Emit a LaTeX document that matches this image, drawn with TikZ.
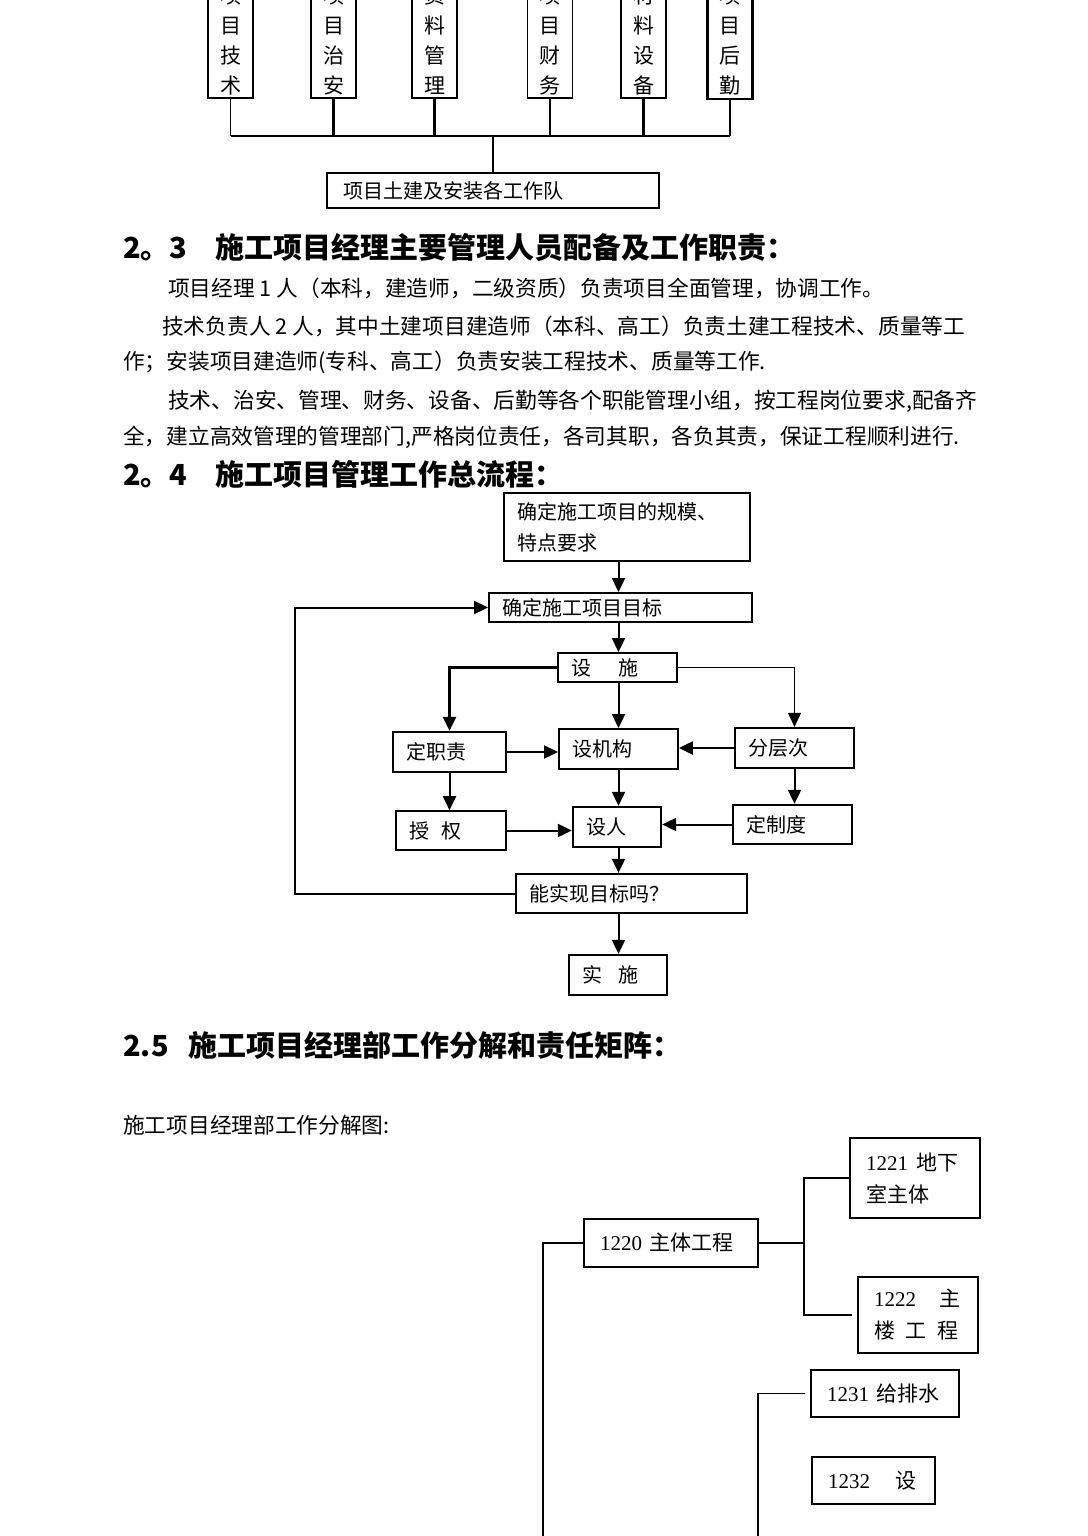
\documentclass[tikz,border=0pt]{standalone}
\usepackage{fontspec}
\setmainfont{Noto Sans CJK SC}
\newfontfamily\numfont{Liberation Serif}
\usepackage{tikz}
\usetikzlibrary{positioning,arrows.meta}

\begin{document}
\begin{tikzpicture}[x=1pt, y=-1pt,
  vbox/.style={draw, line width=2.2pt, minimum width=45pt, minimum height=115pt, inner sep=0pt, align=center, font=\fontsize{21pt}{30pt}\selectfont},
  fbox/.style={draw, line width=1.9pt, inner xsep=13pt, inner ysep=0pt, align=left, font=\fontsize{20pt}{31pt}\selectfont},
  wbox/.style={draw, line width=2.2pt, inner xsep=16pt, inner ysep=0pt, align=left, font=\fontsize{21pt}{32pt}\selectfont},
  hd/.style={anchor=west, inner sep=0pt, font=\bfseries\fontsize{29pt}{32pt}\selectfont},
  para/.style={anchor=west, inner sep=0pt, font=\fontsize{21.7pt}{26pt}\selectfont},
  arr/.style={-{Triangle[length=14pt,width=13pt]}, line width=2pt},
  ln/.style={line width=2pt}]
  \useasboundingbox (0,0) rectangle (1087,1536);
  \clip (0,0) rectangle (1087,1536);
  \fill[white] (0,0) rectangle (1087,1536);

  \node[vbox] (g1) at (230.5,40.5) {项\\目\\技\\术};
  \node[vbox] (g2) at (333.5,40.5) {项\\目\\治\\安};
  \node[vbox, line width=1.8pt] (g3) at (434.5,40.5) {资\\料\\管\\理};
  \node[vbox, line width=1.5pt] (g4) at (550,40.5) {项\\目\\财\\务};
  \node[vbox] (g5) at (643.5,40.5) {材\\料\\设\\备};
  \node[vbox] (g6) at (730,41.5) {项\\目\\后\\勤};
  \node[fbox, line width=2.3pt, text width=300pt, minimum height=35pt, inner xsep=16pt] (team) at (493,190.5) {项目土建及安装各工作队};
  \coordinate (bus) at (0,136);
  \draw[line width=1.1pt] (g1.south) -- (g1.south |- bus);
  \foreach \g in {g2,g3,g4,g5}
    \draw[ln, line width=2.4pt] (\g.south) -- (\g.south |- bus);
  \draw[line width=1.1pt] (g6.south) -- (g6.south |- bus);
  \draw[line width=1.5pt] (g1.south |- bus) -- (g6.south |- bus);
  \draw[line width=1.5pt] (team.north) -- (team.north |- bus);

  \node[hd] (h23) at (123,248) {2。3\hspace{28pt}施工项目经理主要管理人员配备及工作职责：};
  \node[para] (p1) at (168,288) {项目经理 1 人（本科，建造师，二级资质）负责项目全面管理，协调工作。};
  \node[para] (p2) at (162,326) {技术负责人 2 人，其中土建项目建造师（本科、高工）负责土建工程技术、质量等工};
  \node[para] (p3) at (123,362) {作；安装项目建造师(专科、高工）负责安装工程技术、质量等工作.};
  \node[para] (p4) at (168,401) {技术、治安、管理、财务、设备、后勤等各个职能管理小组，按工程岗位要求,配备齐};
  \node[para] (p5) at (123,437) {全，建立高效管理的管理部门,严格岗位责任，各司其职，各负其责，保证工程顺利进行.};
  \node[hd] (h24) at (123,474) {2。4\hspace{28pt}施工项目管理工作总流程：};

  \node[fbox, line width=2.3pt, text width=220pt, minimum height=68pt] (scope) at (627,527) {确定施工项目的规模、\\特点要求};
  \node[fbox, text width=237pt, minimum height=29pt] (goal) at (620.5,607.5) {确定施工项目目标};
  \node[fbox, text width=93pt, minimum height=29pt] (setup) at (617.5,667.5) {设\hspace{1.4em}施};
  \node[fbox, line width=2.3pt, text width=87pt, minimum height=40pt] (duty) at (449.5,752) {定职责};
  \node[fbox, text width=93pt, minimum height=40pt] (org) at (618.5,749) {设机构};
  \node[fbox, line width=2.3pt, text width=93pt, minimum height=40pt] (level) at (794.5,748) {分层次};
  \node[fbox, line width=1.6pt, text width=84pt, minimum height=39pt] (auth) at (451,830.5) {授\hspace{0.6em}权};
  \node[fbox, line width=2.3pt, text width=62pt, minimum height=40pt] (staff) at (617,827) {设人};
  \node[fbox, line width=2.3pt, text width=93pt, minimum height=39pt] (rule) at (792.5,824.5) {定制度};
  \node[fbox, line width=2.3pt, text width=205pt, minimum height=39pt] (check) at (631.5,893.5) {能实现目标吗？};
  \node[fbox, line width=2.3pt, text width=72pt, minimum height=40pt] (run) at (618,975) {实\hspace{0.8em}施};
  \draw[arr] (scope.south -| org) -- (goal.north -| org);
  \draw[arr] (goal.south -| org) -- (setup.north -| org);
  \draw[arr, line width=2.4pt] (setup.west) -| (duty.north);
  \draw[arr] (setup.south -| org) -- (org.north);
  \draw[arr, line width=1.1pt] (setup.east) -| (level.north);
  \draw[arr] (duty.east) -- (duty.east -| org.west);
  \draw[arr, line width=2.4pt] (level.west) -- (level.west -| org.east);
  \draw[arr] (duty.south) -- (duty.south |- auth.north);
  \draw[arr] (org.south) -- (org.south |- staff.north);
  \draw[arr] (level.south) -- (level.south |- rule.north);
  \draw[arr] (auth.east) -- (auth.east -| staff.west);
  \draw[arr] (rule.west) -- (rule.west -| staff.east);
  \draw[arr] (staff.south -| org) -- (check.north -| org);
  \draw[arr] (check.south -| org) -- (run.north -| org);
  \draw[arr] (check.west) -- ++(-220,0) |- (goal.west);

  \node[hd] (h25) at (123,1045) {2.5\hspace{20pt}施工项目经理部工作分解和责任矩阵：};
  \node[para] (cap) at (123,1125) {施工项目经理部工作分解图:};

  \node[wbox, text width=98pt, minimum height=80pt] (w1221) at (915,1178) {\mbox{{\numfont 1221}\hspace{0.4em}地下}\\室主体};
  \node[wbox, text width=142pt, minimum height=48pt] (w1220) at (671,1243) {{\numfont 1220} 主体工程};
  \node[wbox, text width=88pt, minimum height=76pt] (w1222) at (918,1315) {\mbox{{\numfont 1222}\hspace{1.1em}主}\\\mbox{楼\hspace{0.5em}工\hspace{0.5em}程}};
  \node[wbox, text width=116pt, minimum height=47pt] (w1231) at (885,1393.5) {{\numfont 1231} 给排水};
  \node[wbox, line width=1.5pt, text width=91pt, minimum height=47pt] (w1232) at (873.5,1480.5) {\mbox{{\numfont 1232}\hspace{1.2em}设}};
  \coordinate (fork) at (804,1243);
  \coordinate (trunk) at (543,1540);
  \coordinate (drop) at (758,1540);
  \draw[ln] (w1220.east) -- (fork);
  \draw[ln] (w1221.west) -| (fork) |- ([xshift=-5pt]w1222.west);
  \draw[ln] (w1220.west) -| (trunk);
  \draw[line width=1.3pt] ([xshift=-5pt]w1231.west) -| (drop);
\end{tikzpicture}
\end{document}
